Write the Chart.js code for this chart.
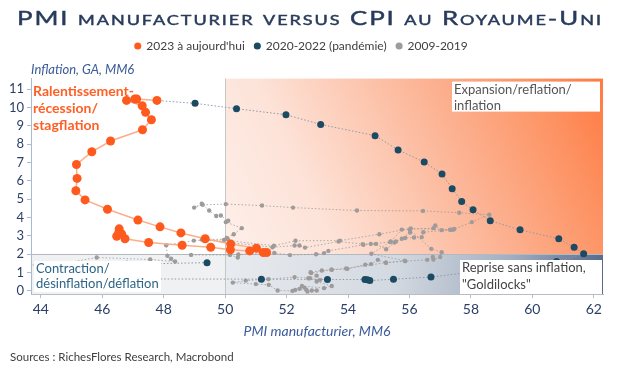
<!DOCTYPE html>
<html>
<head>
<meta charset="utf-8">
<script src="https://cdn.jsdelivr.net/npm/chart.js@4.4.1/dist/chart.umd.min.js"></script>
<style>
  html, body { margin: 0; padding: 0; background: #fff; }
  #wrap { position: relative; width: 620px; height: 372px; }
  #chart { position: absolute; left: 0; top: 0; }
  #titre {
    position: absolute; top: 5px; left: 0; width: 620px;
    text-align: center; font-family: Lato, sans-serif; font-size: 20px; font-weight: normal;
    -webkit-text-stroke: 0.45px #283b5b;
    font-variant: small-caps; letter-spacing: 1.5px; color: #283b5b;
    transform: scaleX(1.29); transform-origin: 310px 50%;
  }
</style>
</head>
<body>
<div id="wrap">
  <canvas id="chart" width="620" height="372"></canvas>
  <div id="titre">PMI manufacturier versus CPI au Royaume-Uni</div>
</div>
<script>
// ------------------------------------------------------------
// Données : PMI manufacturier MM6 / CPI GA MM6
// ------------------------------------------------------------
const pmi2023 = [47.78, 47.12, 47.06, 46.79, 47.30, 47.41, 47.60, 47.31, 46.27, 45.66, 45.16, 45.18, 45.14, 45.44, 46.17, 47.16, 47.88, 48.56, 49.35, 50.18, 51.02, 51.35, 51.24, 50.80, 50.17, 49.53, 48.60, 47.51, 46.74, 46.47, 46.63, 46.54, 46.55];
const cpi2023 = [10.38, 10.46, 10.46, 10.38, 10.09, 9.73, 9.33, 8.78, 8.17, 7.58, 6.89, 6.13, 5.46, 4.96, 4.45, 3.86, 3.49, 3.16, 2.84, 2.55, 2.33, 2.09, 2.09, 2.18, 2.24, 2.38, 2.49, 2.64, 2.84, 2.98, 3.11, 3.20, 3.38];

const pmi2020 = [49.41, 46.8, 44.8, 45.6, 47.4, 51.18, 53.33, 54.55, 54.63, 54.71, 55.48, 56.70, 60.79, 61.67, 61.36, 60.86, 59.60, 58.63, 58.07, 57.70, 57.39, 57.06, 56.48, 55.63, 54.88, 53.11, 51.98, 50.37, 49.02];
const cpi2020 = [1.54, 1.45, 0.95, 0.70, 0.65, 0.64, 0.62, 0.62, 0.60, 0.56, 0.64, 0.75, 1.60, 2.02, 2.38, 2.84, 3.33, 3.82, 4.42, 4.87, 5.56, 6.37, 7.02, 7.68, 8.46, 9.07, 9.60, 9.93, 10.22];

const pmi2009 = [
  41.0, 44.6, 45.82, 47.56, 48.37, 48.24, 48.12, 48.08, 48.98,
  49.96, 51.59, 52.29, 53.74, 55.02, 56.04, 57.38, 57.46, 58.03, 58.60,
  57.62, 56.44, 54.29, 52.21, 51.20, 50.02, 49.27, 48.99,
  49.24, 49.48, 49.71, 49.86, 50.10, 50.02, 50.54, 50.28, 50.05, 50.09, 49.24,
  51.54, 52.26, 52.42, 52.60, 53.69, 54.48, 54.74, 55.37, 55.51, 55.75, 56.02, 56.01,
  56.71, 57.05, 57.00, 56.78, 56.76, 56.58, 55.86, 55.23, 54.97, 54.75, 54.56, 53.98, 53.47, 53.15, 52.78,
  52.98, 52.76, 52.26, 51.41, 50.67, 50.25, 51.00, 51.42, 51.71, 52.19, 52.28, 52.42, 52.68, 52.82,
  52.98, 52.64, 52.58, 52.50, 53.22, 53.47, 52.98, 53.09, 52.71, 52.80, 53.46, 53.94,
  55.24, 55.85, 54.76, 55.39, 55.75, 56.78, 56.84, 57.05, 57.32, 57.43,
  56.45, 56.40, 56.15, 55.86, 55.56, 55.24, 54.91, 54.50,
  53.36, 53.22, 52.96, 52.11, 51.60, 50.43, 50.41, 50.16, 48.89
];
const cpi2009 = [
  1.3, 1.45, 1.82, 1.71, 1.60, 1.75, 1.91, 2.49, 2.74,
  2.77, 2.46, 2.73, 2.74, 3.09, 3.40, 3.33, 3.37, 3.75, 4.15,
  4.26, 4.36, 4.38, 4.54, 4.65, 4.73, 4.69, 4.54,
  4.75, 4.38, 4.08, 4.11, 3.82, 3.75, 3.42, 3.09, 2.88, 2.82, 2.80,
  2.38, 2.47, 2.47, 2.36, 2.69, 2.55, 2.56, 2.66, 2.64, 2.84, 3.18, 3.33,
  2.29, 2.11, 1.85, 1.71, 1.85, 1.69, 1.62, 1.53, 1.69, 1.46, 1.43, 1.20, 1.15, 1.11, 1.02,
  0.83, 0.69, 0.75, 0.64, 0.56, 0.45, 0.37, 0.33, 0.02, 0.00, 0.05, 0.11, -0.04, 0.02,
  0.02, 0.07, 0.18, 0.27, 0.15, 0.27, 0.51, 0.60, 0.69, 0.97, 1.16, 1.22,
  1.54, 1.64, 2.02, 2.69, 3.34, 3.42, 3.56, 3.31, 3.33, 3.34,
  3.20, 2.93, 2.91, 2.88, 2.69, 2.27, 2.56, 2.51,
  2.18, 2.06, 2.00, 1.95, 2.07, 1.98, 1.82, 1.96, 1.96
];

const xTicks = [44, 46, 48, 50, 52, 54, 56, 58, 60, 62];
const yTicks = [0, 1, 2, 3, 4, 5, 6, 7, 8, 9, 10, 11];
const seuilPmi = 50;
const seuilCpi = 2;

const toPoints = (xs, ys) => xs.map((v, i) => ({ x: v, y: ys[i] }));

const FONT = "Lato, 'Open Sans', sans-serif";
const BLEU_TXT = "#2b3f66";

// fonds des quatre cadrans + lignes 50 / 2
const quadrants = {
  id: "quadrants",
  beforeDraw(chart) {
    const { ctx, chartArea: a, scales } = chart;
    const x50 = scales.x.getPixelForValue(seuilPmi);
    const y2 = scales.y.getPixelForValue(seuilCpi);
    ctx.save();

    let g = ctx.createLinearGradient(x50, y2, a.right, a.top);
    g.addColorStop(0, "#fdf0ea");
    g.addColorStop(0.25, "#fde2d7");
    g.addColorStop(0.6, "#fcb495");
    g.addColorStop(0.85, "#fd9262");
    g.addColorStop(1, "#ff7a42");
    ctx.fillStyle = g;
    ctx.fillRect(x50, a.top, a.right - x50, y2 - a.top);

    ctx.fillStyle = "#eff1f3";
    ctx.fillRect(a.left, y2, x50 - a.left, a.bottom - y2);

    g = ctx.createLinearGradient(x50, y2, a.right, a.bottom);
    g.addColorStop(0, "#e8ebef");
    g.addColorStop(0.45, "#d3d9e1");
    g.addColorStop(0.75, "#a2aec0");
    g.addColorStop(1, "#56698a");
    ctx.fillStyle = g;
    ctx.fillRect(x50, y2, a.right - x50, a.bottom - y2);

    ctx.lineWidth = 1;
    ctx.strokeStyle = "#c6c6c6";
    ctx.beginPath();
    ctx.moveTo(Math.round(x50) + 0.5, a.top);
    ctx.lineTo(Math.round(x50) + 0.5, a.bottom);
    ctx.stroke();
    ctx.strokeStyle = "#b4b9c0";
    ctx.beginPath();
    ctx.moveTo(a.left, Math.round(y2) + 0.5);
    ctx.lineTo(a.right, Math.round(y2) + 0.5);
    ctx.stroke();
    ctx.restore();
  },
};

function boite(ctx, x, y, w, h, lignes, couleur, font, interligne) {
  ctx.fillStyle = "#ffffff";
  ctx.fillRect(x, y, w, h);
  ctx.fillStyle = couleur;
  ctx.font = font;
  ctx.textBaseline = "middle";
  ctx.textAlign = "left";
  lignes.forEach((t, i) => ctx.fillText(t, x + 2, y + 8 + i * interligne));
}

// annotations des cadrans + source
const annotations = {
  id: "annotations",
  afterDatasetsDraw(chart) {
    const { ctx, chartArea: a } = chart;
    ctx.save();
    ctx.fillStyle = "#ff5f24";
    ctx.font = "bold 14px " + FONT;
    ctx.textBaseline = "middle";
    ["Ralentissement-", "récession/", "stagflation"].forEach((t, i) =>
      ctx.fillText(t, a.left + 2, a.top + 13 + i * 17)
    );
    boite(ctx, a.right - 151, a.top + 3, 148, 30, ["Expansion/reflation/", "inflation"], "#555555", "13px " + FONT, 16);
    boite(ctx, a.left + 3, a.bottom - 33, 127, 31, ["Contraction/", "désinflation/déflation"], "#2d6485", "13px " + FONT, 15);
    boite(ctx, a.right - 143, a.bottom - 34, 142, 34, ["Reprise sans inflation,", "\"Goldilocks\""], "#444444", "13px " + FONT, 17);
    ctx.restore();
  },
  afterDraw(chart) {
    const ctx = chart.ctx;
    ctx.save();
    ctx.fillStyle = "#404040";
    ctx.font = "11.5px " + FONT;
    ctx.textBaseline = "middle";
    ctx.fillText("Sources : RichesFlores Research, Macrobond", 10, 357);
    ctx.restore();
  },
};

const ctx = document.getElementById("chart");
new Chart(ctx, {
  type: "scatter",
  data: {
    datasets: [
      {
        label: "2023 à aujourd'hui",
        data: toPoints(pmi2023, cpi2023),
        showLine: true,
        borderColor: "#fbae8a",
        borderWidth: 1.5,
        backgroundColor: "#ff5a1e",
        pointRadius: 4.5,
        pointBorderWidth: 0,
        order: 1,
      },
      {
        label: "2020-2022 (pandémie)",
        data: toPoints(pmi2020, cpi2020).concat([{ x: pmi2023[0], y: cpi2023[0] }]),
        showLine: true,
        borderColor: "#8d9aab",
        borderWidth: 1,
        borderDash: [1.5, 2],
        backgroundColor: "#1d4a63",
        pointRadius: 3.5,
        pointBorderWidth: 0,
        order: 2,
      },
      {
        label: "2009-2019",
        data: toPoints(pmi2009, cpi2009),
        showLine: true,
        borderColor: "rgba(150,150,150,0.75)",
        borderWidth: 1,
        borderDash: [1.5, 2],
        backgroundColor: "#a09b9b",
        pointRadius: 2.2,
        pointBorderWidth: 0,
        order: 3,
      },
    ],
  },
  options: {
    responsive: false,
    animation: false,
    layout: { padding: { top: 30, right: 17, left: 0, bottom: 0 } },
    plugins: {
      tooltip: { enabled: false },
      legend: {
        position: "top",
        labels: {
          usePointStyle: true,
          pointStyle: "circle",
          boxWidth: 5,
          boxHeight: 5,
          padding: 10,
          color: "#404040",
          font: { family: FONT, size: 12 },
        },
      },
      subtitle: {
        display: true,
        text: "Inflation, GA, MM6",
        align: "start",
        fullSize: false,
        weight: 500,
        color: "#3b5b9a",
        font: { family: FONT, size: 13, style: "italic" },
        padding: { top: 0, bottom: 1 },
      },
    },
    scales: {
      x: {
        type: "linear",
        min: 43.68,
        max: 62.3,
        afterBuildTicks: (s) => { s.ticks = xTicks.map((v) => ({ value: v })); },
        afterFit: (s) => { s.height = 78; },
        grid: { drawOnChartArea: false, tickLength: 4, color: "#b8bcc4" },
        border: { color: "#b8bcc4" },
        ticks: { color: BLEU_TXT, font: { family: FONT, size: 14 }, padding: 3 },
        title: {
          display: true,
          text: "PMI manufacturier, MM6",
          color: "#3b5b9a",
          font: { family: FONT, size: 14, style: "italic" },
          padding: { top: 0, bottom: 32 },
        },
      },
      y: {
        type: "linear",
        min: -0.17,
        max: 11.57,
        afterBuildTicks: (s) => { s.ticks = yTicks.map((v) => ({ value: v })); },
        afterFit: (s) => { s.width = 31; },
        grid: { drawOnChartArea: false, tickLength: 4, color: "#a9b9d6" },
        border: { color: "#a9b9d6" },
        ticks: { color: BLEU_TXT, font: { family: FONT, size: 13 }, padding: 3 },
      },
    },
  },
  plugins: [quadrants, annotations],
});
</script>
</body>
</html>
